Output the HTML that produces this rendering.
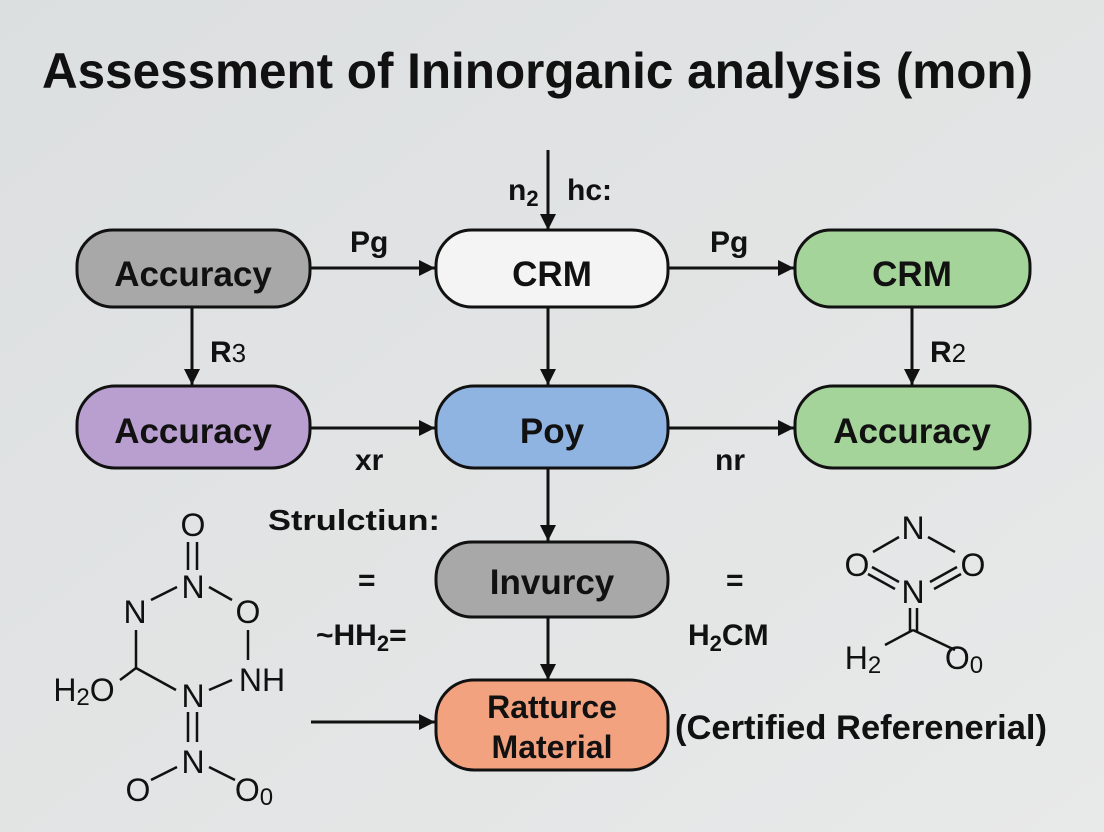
<!DOCTYPE html>
<html><head><meta charset="utf-8"><style>
html,body{margin:0;padding:0;background:#e2e4e4;}
svg{display:block}
text{font-family:"Liberation Sans",sans-serif;fill:#111}
.b{font-weight:bold}
</style></head><body>
<svg width="1104" height="832" viewBox="0 0 1104 832" xmlns="http://www.w3.org/2000/svg">
<defs>
<marker id="h" viewBox="0 0 10 10" markerWidth="16" markerHeight="16" refX="10" refY="5" orient="auto" markerUnits="userSpaceOnUse"><path d="M0,0 L10,5 L0,10 z" fill="#111"/></marker>
<linearGradient id="bg" x1="0" y1="0" x2="1" y2="1"><stop offset="0" stop-color="#dcdfe0"/><stop offset="1" stop-color="#e8e9e9"/></linearGradient>
</defs>
<rect width="1104" height="832" fill="url(#bg)"/>
<text x="42" y="88" class="b" font-size="50" textLength="991" lengthAdjust="spacingAndGlyphs">Assessment of Ininorganic analysis (mon)</text>

<g stroke="#111" stroke-width="3" fill="none" marker-end="url(#h)">
<line x1="548" y1="150" x2="548" y2="230"/>
<line x1="311" y1="268" x2="435" y2="268"/>
<line x1="669" y1="268" x2="794" y2="268"/>
<line x1="192" y1="307" x2="192" y2="385"/>
<line x1="912" y1="307" x2="912" y2="385"/>
<line x1="548" y1="307" x2="548" y2="385"/>
<line x1="311" y1="428" x2="435" y2="428"/>
<line x1="669" y1="428" x2="794" y2="428"/>
<line x1="548" y1="468" x2="548" y2="541"/>
<line x1="548" y1="617" x2="548" y2="680"/>
<line x1="311" y1="722" x2="435" y2="722"/>
</g>

<g stroke="#111" stroke-width="3">
<rect x="77" y="230" width="233" height="77" rx="36" fill="#a8a8a8"/>
<rect x="436" y="230" width="232" height="77" rx="36" fill="#f4f4f4"/>
<rect x="795" y="230" width="235" height="77" rx="36" fill="#a4d49a"/>
<rect x="77" y="386" width="233" height="82" rx="38" fill="#b89fd0"/>
<rect x="436" y="386" width="232" height="82" rx="38" fill="#8fb4e2"/>
<rect x="795" y="386" width="235" height="82" rx="38" fill="#a4d49a"/>
<rect x="436" y="542" width="232" height="75" rx="36" fill="#a8a8a8"/>
<rect x="436" y="680" width="232" height="90" rx="38" fill="#f3a27f"/>
</g>

<g class="b" font-size="35" text-anchor="middle">
<text x="193" y="286" class="b">Accuracy</text>
<text x="552" y="286" class="b">CRM</text>
<text x="912" y="286" class="b">CRM</text>
<text x="193" y="443" class="b">Accuracy</text>
<text x="552" y="443" class="b">Poy</text>
<text x="912" y="443" class="b">Accuracy</text>
<text x="552" y="594" class="b">Invurcy</text>
<text x="552" y="718" class="b" font-size="32">Ratturce</text>
<text x="552" y="758" class="b" font-size="32">Material</text>
</g>

<g class="b" font-size="30">
<text x="508" y="200" class="b">n<tspan font-size="22" dy="6">2</tspan></text>
<text x="567" y="200" class="b">h<tspan>c:</tspan></text>
<text x="350" y="252" class="b">Pg</text>
<text x="710" y="252" class="b">Pg</text>
<text x="210" y="362" class="b">R<tspan font-size="26" font-weight="normal">3</tspan></text>
<text x="930" y="362" class="b">R<tspan font-size="26" font-weight="normal">2</tspan></text>
<text x="355" y="470" class="b">xr</text>
<text x="715" y="470" class="b">nr</text>
<text x="268" y="530" class="b" font-size="29" textLength="172" lengthAdjust="spacingAndGlyphs">Strulctiun:</text>
<text x="358" y="590" class="b">=</text>
<text x="726" y="590" class="b">=</text>
<text x="316" y="645" class="b">~HH<tspan font-size="22" dy="6">2</tspan><tspan dy="-6">=</tspan></text>
<text x="688" y="645" class="b">H<tspan font-size="22" dy="6">2</tspan><tspan dy="-6">CM</tspan></text>
<text x="675" y="739" class="b" font-size="34" textLength="372" lengthAdjust="spacingAndGlyphs">(Certified Referenerial)</text>
</g>

<!-- left molecule -->
<g font-size="32" text-anchor="middle">
<text x="193" y="536">O</text>
<text x="193" y="598">N</text>
<text x="135" y="623">N</text>
<text x="248" y="623">O</text>
<text x="262" y="691">NH</text>
<text x="193" y="707">N</text>
<text x="84" y="701">H<tspan font-size="24" dy="4">2</tspan><tspan dy="-4">O</tspan></text>
<text x="193" y="773">N</text>
<text x="138" y="801">O</text>
<text x="254" y="801">O<tspan font-size="24" dy="4">0</tspan></text>
</g>
<g stroke="#111" stroke-width="2.5">
<line x1="188" y1="542" x2="188" y2="570"/><line x1="197" y1="542" x2="197" y2="570"/>
<line x1="151" y1="600" x2="177" y2="587"/>
<line x1="209" y1="587" x2="232" y2="600"/>
<line x1="136" y1="630" x2="136" y2="668"/>
<line x1="248" y1="630" x2="248" y2="660"/>
<line x1="120" y1="680" x2="136" y2="668"/>
<line x1="136" y1="668" x2="176" y2="690"/>
<line x1="209" y1="690" x2="232" y2="680"/>
<line x1="188" y1="712" x2="188" y2="742"/><line x1="197" y1="712" x2="197" y2="742"/>
<line x1="151" y1="780" x2="177" y2="767"/>
<line x1="209" y1="767" x2="235" y2="780"/>
</g>

<!-- right molecule -->
<g font-size="32" text-anchor="middle">
<text x="913" y="539">N</text>
<text x="857" y="576">O</text>
<text x="973" y="576">O</text>
<text x="913" y="603">N</text>
<text x="863" y="669">H<tspan font-size="24" dy="4">2</tspan></text>
<text x="964" y="669">O<tspan font-size="24" dy="4">0</tspan></text>
</g>
<g stroke="#111" stroke-width="2.5">
<line x1="873" y1="552" x2="899" y2="537"/>
<line x1="928" y1="537" x2="955" y2="552"/>
<line x1="872" y1="567" x2="899" y2="582"/><line x1="868" y1="574" x2="895" y2="589"/>
<line x1="930" y1="582" x2="957" y2="567"/><line x1="934" y1="589" x2="961" y2="574"/>
<line x1="910" y1="608" x2="910" y2="632"/><line x1="917" y1="608" x2="917" y2="632"/>
<line x1="885" y1="645" x2="913" y2="630"/>
<line x1="913" y1="630" x2="955" y2="650"/>
</g>
</svg>
</body></html>
